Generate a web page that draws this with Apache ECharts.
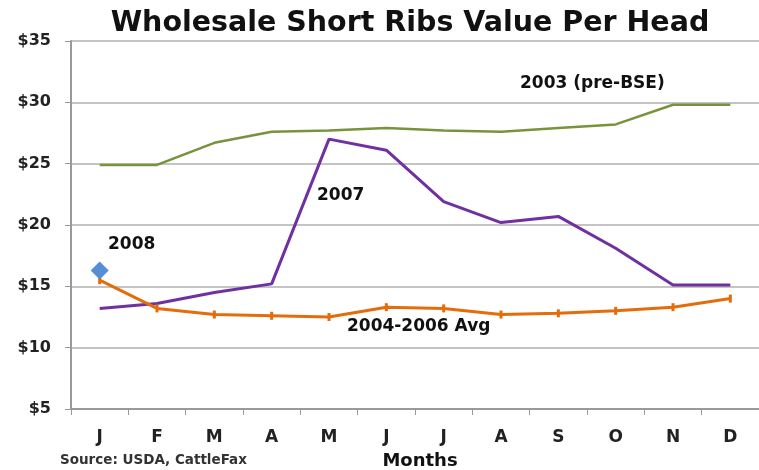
<!DOCTYPE html>
<html>
<head>
<meta charset="utf-8">
<script src="https://cdn.jsdelivr.net/npm/echarts@6/dist/echarts.min.js"></script>
<style>
  html, body { margin: 0; padding: 0; background: #fff; }
  #container { width: 759px; height: 470px; }
</style>
</head>
<body>
<div id="container"></div>
<script>
var months = ['J', 'F', 'M', 'A', 'M', 'J', 'J', 'A', 'S', 'O', 'N', 'D'];
var y2003 = [24.9, 24.9, 26.7, 27.6, 27.7, 27.9, 27.7, 27.6, 27.9, 28.2, 29.8, 29.8];
var y2007 = [13.2, 13.6, 14.5, 15.2, 27.0, 26.1, 21.9, 20.2, 20.7, 18.1, 15.1, 15.1];
var avg0406 = [15.5, 13.2, 12.7, 12.6, 12.5, 13.3, 13.2, 12.7, 12.8, 13.0, 13.3, 14.0];
var y2008 = [16.3, null, null, null, null, null, null, null, null, null, null, null];

var font = '"DejaVu Sans", Verdana, sans-serif';
var dom = document.getElementById('container');
var myChart = echarts.init(dom);

var option = {
    animation: false,
    title: {
        text: 'Wholesale Short Ribs Value Per Head',
        left: 405,
        textAlign: 'center',
        top: 4,
        textStyle: { fontFamily: font, fontWeight: 'bold', fontSize: 28.5, color: '#111' }
    },
    grid: { left: 71, right: 0, top: 41, bottom: 61, outerBoundsMode: 'none', containLabel: false },
    xAxis: {
        type: 'category',
        data: months,
        boundaryGap: true,
        axisLine: { lineStyle: { color: '#999', width: 2 } },
        axisTick: { show: true, length: 6, lineStyle: { color: '#999', width: 1 } },
        axisLabel: { fontFamily: font, fontWeight: 'bold', fontSize: 17, color: '#222', margin: 20 },
        name: 'Months',
        nameLocation: 'middle',
        nameGap: 43,
        nameTextStyle: { fontFamily: font, fontWeight: 'bold', fontSize: 18, color: '#111', padding: [0, 0, 0, 10] }
    },
    yAxis: {
        type: 'value',
        min: 5,
        max: 35,
        interval: 5,
        axisLine: { show: true, lineStyle: { color: '#999', width: 2 } },
        axisTick: { show: true, length: 6, lineStyle: { color: '#999' } },
        splitLine: { lineStyle: { color: '#c4c4c4', width: 2 } },
        axisLabel: {
            fontFamily: font, fontWeight: 'bold', fontSize: 16, color: '#222', margin: 20,
            formatter: '${value}'
        }
    },
    graphic: [
        { type: 'text', left: 520, top: 75, style: { text: '2003 (pre-BSE)', font: 'bold 17px ' + font, fill: '#111' } },
        { type: 'text', left: 317, top: 187, style: { text: '2007', font: 'bold 17px ' + font, fill: '#111' } },
        { type: 'text', left: 108, top: 236, style: { text: '2008', font: 'bold 17px ' + font, fill: '#111' } },
        { type: 'text', left: 347, top: 318, style: { text: '2004-2006 Avg', font: 'bold 17px ' + font, fill: '#111' } },
        { type: 'text', left: 60, top: 453, style: { text: 'Source: USDA, CattleFax', font: 'bold 13.5px ' + font, fill: '#333' } }
    ],
    series: [
        {
            name: '2003 (pre-BSE)', type: 'line', data: y2003,
            symbol: 'none', lineStyle: { color: '#77933c', width: 2.5 }
        },
        {
            name: '2007', type: 'line', data: y2007,
            symbol: 'none', lineStyle: { color: '#7030a0', width: 3 }
        },
        {
            name: '2004-2006 Avg', type: 'line', data: avg0406,
            symbol: 'rect', symbolSize: [3, 8],
            itemStyle: { color: '#e46c0a' },
            lineStyle: { color: '#e46c0a', width: 3 }
        },
        {
            name: '2008', type: 'line', data: y2008,
            symbol: 'diamond', symbolSize: 18,
            itemStyle: { color: '#558ed5' },
            lineStyle: { width: 0 }
        }
    ]
};

myChart.setOption(option, true);
</script>
</body>
</html>
